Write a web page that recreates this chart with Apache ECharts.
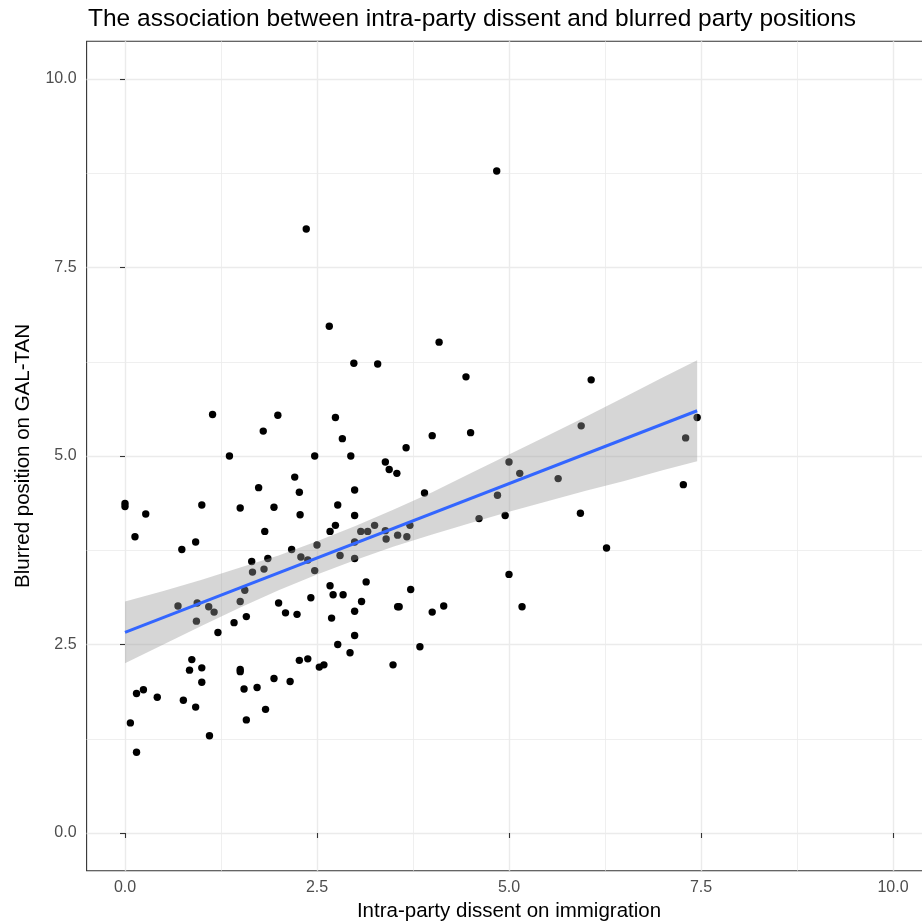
<!DOCTYPE html>
<html>
<head>
<meta charset="utf-8">
<script src="https://cdn.jsdelivr.net/npm/echarts@6/dist/echarts.min.js"></script>
<style>
html,body{margin:0;padding:0;background:#fff;}
#chart{width:922px;height:924px;}
</style>
</head>
<body>
<div id="chart"></div>
<script>
// ---- data ----
const dissentX = [4.84,2.36,2.66,4.09,2.98,3.29,4.44,6.07,1.14,1.99,1.80,1.36,2.47,2.21,2.74,2.83,4.00,4.50,2.94,3.66,
  3.39,3.44,3.54,5.00,5.14,5.94,7.45,7.30,5.64,0.00,0.00,0.27,0.13,1.00,0.74,0.92,1.74,1.50,1.94,2.27,
  2.28,1.82,2.17,1.65,1.86,1.66,1.81,2.29,2.38,2.50,2.47,1.56,1.50,0.69,0.94,1.09,1.16,0.93,1.58,2.00,
  2.09,2.24,2.42,1.21,1.42,0.87,0.84,1.00,1.00,0.15,0.24,0.42,0.76,0.92,0.07,1.10,0.15,1.50,1.50,1.55,
  1.72,1.58,1.83,1.94,2.15,2.27,2.38,2.53,2.59,2.69,2.99,2.99,2.77,2.93,3.49,3.84,4.00,2.99,2.77,2.99,
  2.74,2.67,3.90,4.85,4.95,4.61,3.07,3.16,3.25,3.39,3.40,3.55,3.67,3.71,2.99,2.80,2.99,3.14,2.67,2.71,
  2.84,3.72,3.08,3.55,3.57,4.15,5.00,5.17,7.27,5.93,6.27];
const blurY = [8.78,8.01,6.72,6.51,6.23,6.22,6.05,6.01,5.55,5.54,5.33,5.00,5.00,4.72,5.51,5.23,5.27,5.31,5.00,5.11,
  4.92,4.82,4.77,4.92,4.77,5.40,5.51,5.24,4.70,4.37,4.33,4.23,3.93,4.35,3.76,3.86,4.58,4.31,4.32,4.52,
  4.22,4.00,3.76,3.60,3.64,3.46,3.50,3.66,3.62,3.82,3.48,3.22,3.07,3.01,3.05,3.00,2.93,2.81,2.87,3.05,
  2.92,2.90,3.12,2.66,2.79,2.30,2.16,2.19,2.00,1.85,1.90,1.80,1.76,1.67,1.46,1.29,1.07,2.17,2.14,1.91,
  1.93,1.50,1.64,2.05,2.01,2.29,2.31,2.20,2.23,2.85,2.94,2.62,2.50,2.39,2.23,2.47,2.93,4.55,4.35,4.21,
  4.08,4.00,4.51,4.48,4.21,4.17,4.00,4.00,4.08,4.01,3.90,3.95,3.93,4.08,3.86,3.68,3.64,3.33,3.28,3.16,
  3.16,3.23,3.07,3.00,3.00,3.01,3.43,3.00,4.62,4.24,3.78];

// fitted line and its confidence band
const fitX = [0, 7.45];
const fitY = [2.66, 5.60];
const bandX     = [0,    0.5,  1,    1.5,  2,    2.5,  3,    3.5,  4,    4.5,  5,    5.5,  6,    6.5,  7,    7.45];
const bandLower = [2.25, 2.50, 2.75, 2.99, 3.22, 3.43, 3.62, 3.80, 3.96, 4.11, 4.26, 4.40, 4.54, 4.67, 4.81, 4.93];
const bandUpper = [3.07, 3.21, 3.36, 3.52, 3.68, 3.87, 4.07, 4.29, 4.52, 4.77, 5.02, 5.27, 5.52, 5.78, 6.04, 6.27];

const majorTicks = [0, 2.5, 5, 7.5, 10];
const minorTicks = [1.25, 3.75, 6.25, 8.75];

const titleText = 'The association between intra-party dissent and blurred party positions';
const xTitle = 'Intra-party dissent on immigration';
const yTitle = 'Blurred position on GAL-TAN';

// ---- chart ----
const FONT = "'Liberation Sans', Arial, Helvetica, sans-serif";
const points = dissentX.map((x, i) => [x, blurY[i]]);
const fitData = fitX.map((x, i) => [x, fitY[i]]);

function majorAxis(dim) {
  const isX = dim === 'x';
  return {
    type: 'value', min: -0.5, max: 10.5,
    name: isX ? xTitle : yTitle,
    nameLocation: 'middle',
    nameGap: isX ? 30 : 53,
    nameTextStyle: { fontFamily: FONT, fontSize: 20.5, color: '#000' },
    axisLine: { show: false },
    axisTick: { show: true, customValues: majorTicks, length: 5, lineStyle: { color: '#333333', width: 1.1 } },
    axisLabel: { customValues: majorTicks, formatter: v => Number(v).toFixed(1),
      fontFamily: FONT, fontSize: 16, color: '#4d4d4d', margin: isX ? 9 : 10 },
    splitLine: { show: true, lineStyle: { color: '#ebebeb', width: 1.4 } },
    z: 1
  };
}
function minorAxis() {
  return {
    type: 'value', min: -0.5, max: 10.5,
    axisLine: { show: false },
    axisTick: { show: false, customValues: minorTicks },
    axisLabel: { show: false, customValues: minorTicks },
    splitLine: { show: true, lineStyle: { color: '#ebebeb', width: 0.8 } },
    z: 0
  };
}

const chart = echarts.init(document.getElementById('chart'), null, { renderer: 'canvas' });
chart.setOption({
  animation: false,
  backgroundColor: '#ffffff',
  title: {
    text: titleText, left: 88, top: 7, padding: 0,
    textStyle: { fontFamily: FONT, fontSize: 24.5, fontWeight: 'normal', color: '#000' }
  },
  grid: {
    left: 86.6, top: 41.3, width: 844.8, height: 829.4,
    outerBoundsMode: 'none', containLabel: false,
    show: true, borderColor: '#333333', borderWidth: 1.1, backgroundColor: 'transparent'
  },
  xAxis: [majorAxis('x'), minorAxis()],
  yAxis: [majorAxis('y'), minorAxis()],
  series: [
    {
      type: 'scatter', xAxisIndex: 0, yAxisIndex: 0,
      data: points, symbolSize: 7.4,
      itemStyle: { color: '#000000', opacity: 1 }, z: 2, silent: true
    },
    {
      type: 'custom', xAxisIndex: 0, yAxisIndex: 0,
      data: [[bandX[0], bandLower[0]]], z: 3, silent: true,
      renderItem: function (params, api) {
        const pts = [];
        for (let i = 0; i < bandX.length; i++) pts.push(api.coord([bandX[i], bandUpper[i]]));
        for (let i = bandX.length - 1; i >= 0; i--) pts.push(api.coord([bandX[i], bandLower[i]]));
        return { type: 'polygon', shape: { points: pts, smooth: 0 }, style: { fill: 'rgba(153,153,153,0.4)' } };
      }
    },
    {
      type: 'line', xAxisIndex: 0, yAxisIndex: 0,
      data: fitData, showSymbol: false, symbol: 'none',
      lineStyle: { color: '#3366FF', width: 3 }, z: 4, silent: true
    }
  ]
});
</script>
</body>
</html>
